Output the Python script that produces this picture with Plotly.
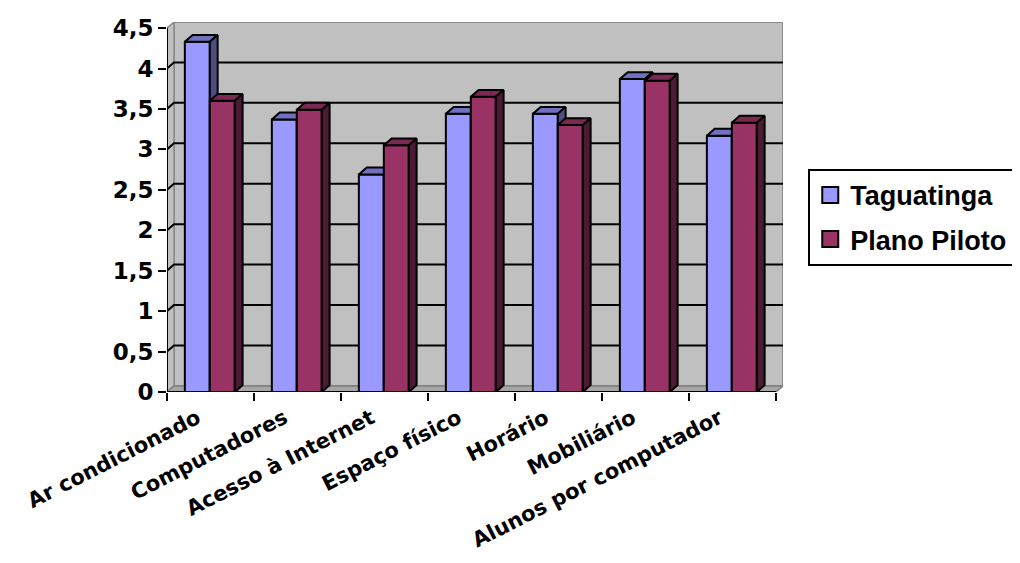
import plotly.graph_objects as go

categories = ["Ar condicionado", "Computadores", "Acesso à Internet", "Espaço físico",
              "Horário", "Mobiliário", "Alunos por computador"]
taguatinga = [4.33, 3.37, 2.69, 3.44, 3.44, 3.87, 3.17]
plano_piloto = [3.60, 3.49, 3.05, 3.65, 3.30, 3.85, 3.33]
y_ticks = [0, 0.5, 1, 1.5, 2, 2.5, 3, 3.5, 4, 4.5]
y_tick_labels = ["0", "0,5", "1", "1,5", "2", "2,5", "3", "3,5", "4", "4,5"]

n = len(categories)
DX = 0.08    # depth offset of walls (x units)
DY = 0.075   # depth offset of walls (y units)
BDX = 0.09   # bar depth (x units)
BDY = 0.085  # bar depth (y units)
BW = 0.287   # bar width
START = 0.205
YMAX = y_ticks[-1]
YTOP = YMAX + DY

ARIAL = "Liberation Sans, Arial, sans-serif"
WIDE = "DejaVu Sans, sans-serif"

fig = go.Figure()

def poly(xs, ys, fill, line_color, width=1.5, clip=True):
    fig.add_trace(go.Scatter(x=xs, y=ys, mode="lines", fill="toself", fillcolor=fill,
                             line=dict(color=line_color, width=width), hoverinfo="skip",
                             showlegend=False, cliponaxis=clip))

def line(xs, ys, color, width=1.5, clip=True):
    fig.add_trace(go.Scatter(x=xs, y=ys, mode="lines", line=dict(color=color, width=width),
                             hoverinfo="skip", showlegend=False, cliponaxis=clip))

# walls and floor
poly([DX, DX, n + DX, n + DX, DX], [DY, YTOP, YTOP, DY, DY], "#C0C0C0", "#8C8C8C", 2, False)
poly([0, 0, DX, DX, 0], [0, YMAX, YTOP, DY, 0], "#C0C0C0", "#8C8C8C", 1.5, False)
poly([0, DX, n + DX, n, 0], [0, DY, DY, 0, 0], "#A6A6A6", "#808080", 1.5, False)

# gridlines on the walls
gx, gy = [], []
for k in y_ticks[1:-1]:
    gx += [0, DX, n + DX, None]
    gy += [k, k + DY, k + DY, None]
line(gx, gy, "black", 2)

def bars(values, offset, c_front, c_top, c_side):
    fx, fy, tx, ty, sx, sy = [], [], [], [], [], []
    for i, v in enumerate(values):
        x0 = i + START + offset
        x1 = x0 + BW
        fx += [x0, x1, x1, x0, x0, None]
        fy += [0, 0, v, v, 0, None]
        tx += [x0, x0 + BDX, x1 + BDX, x1, x0, None]
        ty += [v, v + BDY, v + BDY, v, v, None]
        sx += [x1, x1 + BDX, x1 + BDX, x1, x1, None]
        sy += [0, BDY, v + BDY, v, 0, None]
    poly(fx, fy, c_front, "black", 2)
    poly(tx, ty, c_top, "black", 2)
    poly(sx, sy, c_side, "black", 2)

bars(taguatinga, 0, "#9999FF", "#7070C0", "#4D4D80")
bars(plano_piloto, BW, "#993366", "#7A2952", "#4D1A33")

# front axis lines
line([0, 0], [0, YMAX], "black", 2, False)
line([0, n], [0, 0], "black", 2, False)

# legend entries
for name, col in [("Taguatinga", "#9999FF"), ("Plano Piloto", "#993366")]:
    fig.add_trace(go.Scatter(x=[-5], y=[1], mode="markers", name=name, legendgroup=name,
                             marker=dict(symbol="square", size=16, color=col,
                                         line=dict(color="black", width=2))))

fig.update_layout(
    width=1020, height=563,
    margin=dict(l=159, r=245, t=14, b=179, autoexpand=False),
    paper_bgcolor="white", plot_bgcolor="white",
    showlegend=True,
    legend=dict(x=1.041, y=0.603, xanchor="left", yanchor="top",
                bordercolor="black", borderwidth=2, bgcolor="white",
                font=dict(family=ARIAL, size=27, color="black", weight="bold"),
                itemwidth=30, itemsizing="trace", tracegroupgap=6),
    xaxis=dict(range=[0, n + DX], showgrid=False, zeroline=False, showline=False,
               tickvals=[i + 0.35 for i in range(n)], ticktext=categories,
               tickangle=-27, ticks="", ticklabelstandoff=9,
               tickfont=dict(family=WIDE, size=21, color="black", weight="bold"),
               minor=dict(tickvals=list(range(n + 1)), ticks="outside", ticklen=8,
                          tickcolor="black", tickwidth=1.5, showgrid=False)),
    yaxis=dict(range=[0, YTOP], showgrid=False, zeroline=False, showline=False,
               tickvals=y_ticks, ticktext=y_tick_labels, ticks="outside", ticklen=8,
               tickcolor="black", tickwidth=1.5,
               tickfont=dict(family=WIDE, size=23, color="black", weight="bold")),
)

fig.write_html("out.html")
